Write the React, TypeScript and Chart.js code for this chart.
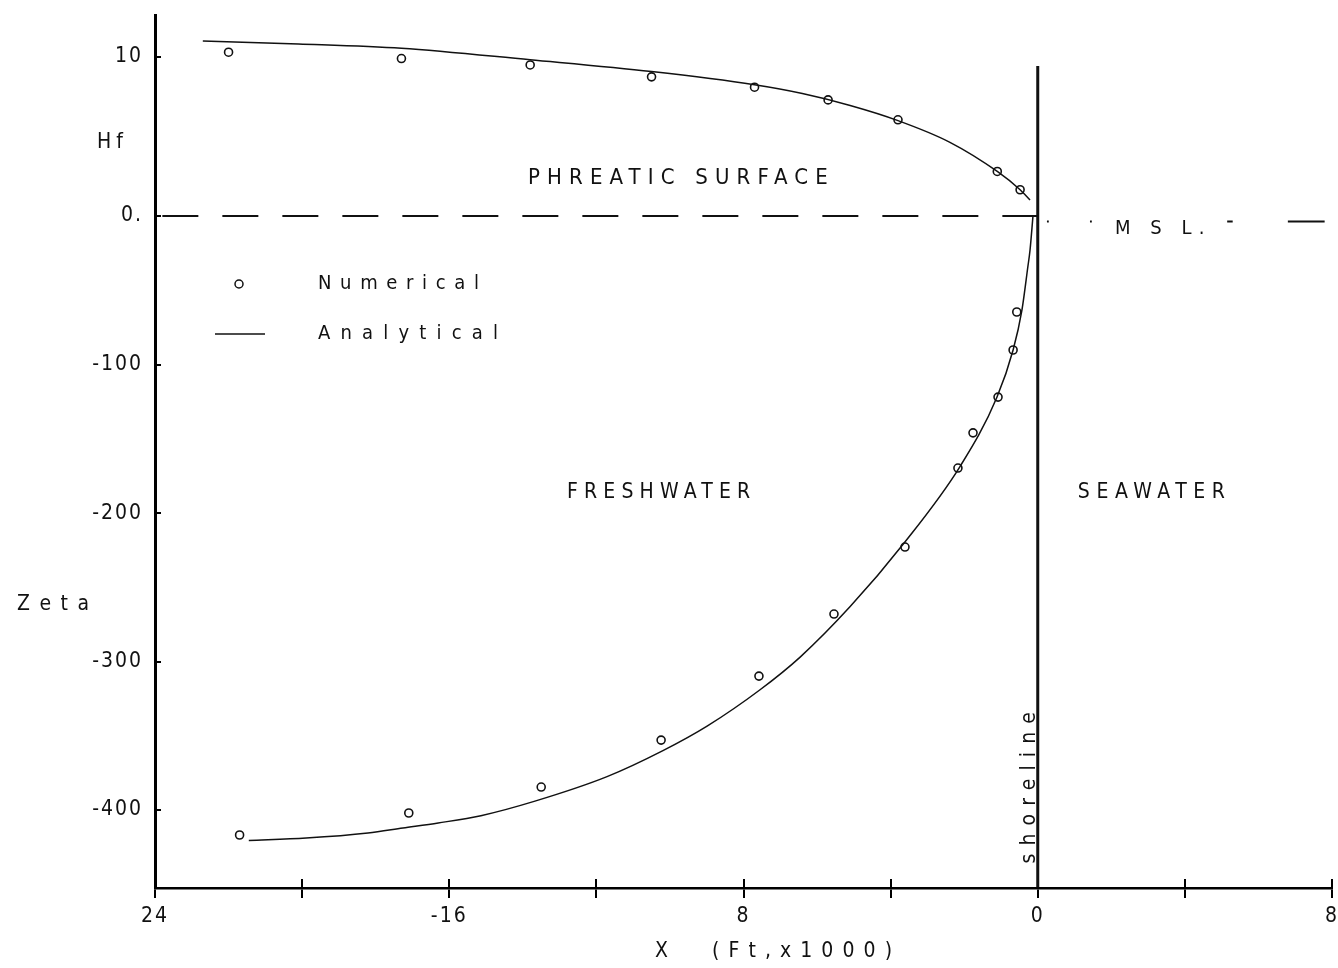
import React, { useEffect, useRef } from "react";
import { Chart, registerables } from "chart.js";

Chart.register(...registerables);

const FONT = '"DejaVu Sans Condensed", "Liberation Sans Narrow", "DejaVu Sans", sans-serif';

// ---- axes ----
const X_MIN = -24;
const X_MAX = 8;
const ZETA_MIN = -452.5;
const ZETA_MAX = 135.4;
const HF_MIN = -42.26;
const HF_MAX = 12.64;

const X_TICKS = [-24, -20, -16, -12, -8, -4, 0, 4, 8];
const X_TICK_LABELS = ["24", "", "-16", "", "8", "", "0", "", "8"];
const ZETA_TICKS = [-400, -300, -200, -100];
const ZETA_TICK_LABELS = ["-400", "-300", "-200", "-100"];
const HF_TICKS = [0, 10];
const HF_TICK_LABELS = ["0.", "10"];

// ---- phreatic surface Hf (upper, exaggerated scale) ----
const HF_NUM_X = [-22.0, -17.3, -13.8, -10.5, -7.7, -5.7, -3.8, -1.1, -0.48];
const HF_NUM = [10.3, 9.9, 9.5, 8.75, 8.1, 7.3, 6.05, 2.8, 1.65];

const HF_ANA_X = [-22.7, -20.1, -17.3, -13.8, -10.5, -7.7, -6.4, -5.1, -3.8, -2.4, -1.1, -0.48, -0.21];
const HF_ANA = [11.0, 10.82, 10.55, 9.82, 9.08, 8.25, 7.7, 6.95, 6.0, 4.65, 2.8, 1.65, 1.0];

// ---- interface Zeta (lower) ----
const ZETA_NUM_X = [-21.7, -17.1, -13.5, -10.24, -7.58, -5.54, -3.61, -2.17, -1.76, -1.08, -0.67, -0.57];
const ZETA_NUM = [-416.8, -402, -384.5, -352.9, -309.8, -268, -222.9, -169.7, -146, -121.9, -90.2, -64.6];

const ZETA_ANA_X = [-21.45, -19.89, -18.21, -17.26, -16.3, -15.14, -13.67, -11.71, -10.19, -8.99, -7.55, -6.46, -5.1, -3.66, -2.11, -1.11, -0.67, -0.43, -0.27, -0.21, -0.13];
const ZETA_ANA = [-420.5, -418.9, -415.5, -412.1, -408.7, -403.8, -394, -377.5, -360, -343.5, -319, -297, -263, -221, -168.5, -122, -90.2, -63.3, -34.3, -22.9, 0];

// ---- reference lines ----
const MSL_LEVEL = 0;
const MSL_LEFT_X = [-23.8, 0];
const MSL_RIGHT_X = [0.25, 0.3, null, 1.42, 1.47, null, 5.15, 5.3, null, 6.8, 7.8];
const MSL_RIGHT_LEVEL = -0.35;
const SHORELINE_X = 0;
const SHORELINE_ZETA = [101, -452];

const pts = (xs: (number | null)[], ys: number[] | number) =>
  xs.map((x, i) => (x === null ? { x: NaN, y: null } : { x, y: Array.isArray(ys) ? ys[i] : ys }));

// Hf tick values expressed on the Zeta axis (both axes span the same plot height)
const hfToZeta = (h: number) => ZETA_MIN + ((h - HF_MIN) / (HF_MAX - HF_MIN)) * (ZETA_MAX - ZETA_MIN);
const Y_TICK_VALUES = [...ZETA_TICKS, ...HF_TICKS.map(hfToZeta)];
const Y_TICK_LABELS = [...ZETA_TICK_LABELS, ...HF_TICK_LABELS];

const noPad = (s: any) => {
  s.paddingTop = 0;
  s.paddingBottom = 0;
  s.paddingLeft = 0;
  s.paddingRight = 0;
};

const spacingPlugin = {
  id: "tickSpacing",
  beforeDraw(chart: any) {
    chart.ctx.letterSpacing = "2px";
  },
};

const annotationPlugin = {
  id: "annotations",
  afterDraw(chart: any) {
    const ctx = chart.ctx;
    const xs = chart.scales.x;
    const zs = chart.scales.y;
    const hs = chart.scales.y2;
    ctx.save();
    ctx.fillStyle = "#111";
    ctx.strokeStyle = "#111";
    ctx.textAlign = "left";

    const spaced = (text: string, left: number, right: number, cy: number, size: number, baseline = "middle") => {
      ctx.font = `${size}px ${FONT}`;
      ctx.textBaseline = baseline;
      ctx.letterSpacing = "0px";
      const w = ctx.measureText(text).width;
      const n = text.length;
      const sp = n > 1 ? Math.max(0, (right - left - w) / (n - 1)) : 0;
      ctx.letterSpacing = `${sp}px`;
      ctx.fillText(text, left, cy);
      ctx.letterSpacing = "0px";
    };

    // region labels (data coordinates)
    spaced("PHREATIC SURFACE", xs.getPixelForValue(-13.86), xs.getPixelForValue(-5.71), hs.getPixelForValue(2.39), 22);
    spaced("FRESHWATER", xs.getPixelForValue(-12.8), xs.getPixelForValue(-7.82), zs.getPixelForValue(-186), 21);
    spaced("SEAWATER", xs.getPixelForValue(1.09), xs.getPixelForValue(5.09), zs.getPixelForValue(-186.5), 21);
    spaced("M S L.", xs.getPixelForValue(2.1), xs.getPixelForValue(4.53), hs.getPixelForValue(-0.82), 20);

    // shoreline label, rotated
    const yb = zs.getPixelForValue(-436);
    const yt = zs.getPixelForValue(-334);
    ctx.save();
    ctx.translate(xs.getPixelForValue(SHORELINE_X) - 3, yb);
    ctx.rotate(-Math.PI / 2);
    spaced("shoreline", 0, yb - yt, 0, 21, "alphabetic");
    ctx.restore();

    // axis titles
    spaced("Hf", 97, 123, 143, 21);
    spaced("Zeta", 17, 89, 605, 21);
    spaced("X", 655, 667, 952, 21);
    spaced("(Ft,x1000)", 712, 892, 952, 21);

    // legend
    ctx.lineWidth = 1.5;
    ctx.beginPath();
    ctx.arc(239, 284, 4, 0, Math.PI * 2);
    ctx.stroke();
    spaced("Numerical", 318, 479, 284, 20);
    ctx.beginPath();
    ctx.moveTo(215, 334);
    ctx.lineTo(265, 334);
    ctx.stroke();
    spaced("Analytical", 318, 498, 334, 20);

    ctx.restore();
  },
};

export default function App() {
  const ref = useRef<HTMLCanvasElement>(null);

  useEffect(() => {
    const canvas = ref.current;
    if (!canvas) return;
    const tickFont = { family: FONT, size: 21 };
    const lineDs = (data: any[], axis: string, extra: any = {}) => ({
      data,
      yAxisID: axis,
      showLine: true,
      borderColor: "#111",
      borderWidth: 1.5,
      pointRadius: 0,
      pointHoverRadius: 0,
      fill: false,
      ...extra,
    });
    const pointDs = (data: any[], axis: string) => ({
      data,
      yAxisID: axis,
      showLine: false,
      borderColor: "#111",
      backgroundColor: "#fff",
      borderWidth: 1.6,
      pointRadius: 4,
      pointStyle: "circle",
    });
    const xTicks = (s: any) => {
      s.ticks = X_TICKS.map((v) => ({ value: v }));
    };

    const chart = new Chart(canvas, {
      type: "scatter",
      data: {
        datasets: [
          lineDs(pts(MSL_LEFT_X, MSL_LEVEL), "y2", { borderDash: [36, 24], borderWidth: 2 }),
          lineDs(pts(MSL_RIGHT_X, MSL_RIGHT_LEVEL), "y2", { borderWidth: 2, spanGaps: false }),
          lineDs(pts([SHORELINE_X, SHORELINE_X], SHORELINE_ZETA), "y", { borderWidth: 3 }),
          lineDs(pts(HF_ANA_X, HF_ANA), "y2", { cubicInterpolationMode: "monotone" }),
          pointDs(pts(HF_NUM_X, HF_NUM), "y2"),
          lineDs(pts(ZETA_ANA_X, ZETA_ANA), "y", { cubicInterpolationMode: "monotone" }),
          pointDs(pts(ZETA_NUM_X, ZETA_NUM), "y"),
        ],
      },
      options: {
        animation: false,
        responsive: false,
        devicePixelRatio: 1,
        layout: { autoPadding: false, padding: { left: 0, top: 15, right: 6, bottom: 0 } },
        plugins: { legend: { display: false }, tooltip: { enabled: false } },
        scales: {
          x: {
            type: "linear",
            position: "bottom",
            min: X_MIN,
            max: X_MAX,
            weight: 1,
            afterBuildTicks: xTicks,
            afterFit: (s: any) => {
              s.height = 80;
              noPad(s);
            },
            border: { display: true, color: "#000", width: 2.5 },
            grid: { drawOnChartArea: false, drawTicks: true, tickLength: 10, color: "#000", lineWidth: 2 },
            ticks: {
              color: "#111",
              padding: 6,
              autoSkip: false,
              maxRotation: 0,
              font: tickFont,
              callback: (v: any) => {
                const i = X_TICKS.indexOf(Number(v));
                return i >= 0 ? X_TICK_LABELS[i] : "";
              },
            },
          },
          xin: {
            type: "linear",
            position: "bottom",
            min: X_MIN,
            max: X_MAX,
            weight: 0,
            afterBuildTicks: xTicks,
            afterFit: (s: any) => {
              s.height = 0;
              noPad(s);
            },
            border: { display: false },
            grid: { drawOnChartArea: false, drawTicks: true, tickLength: -9, color: "#000", lineWidth: 2 },
            ticks: { display: true, autoSkip: false, maxRotation: 0, padding: 0, font: { size: 1 }, callback: () => "" },
          },
          y: {
            type: "linear",
            position: "left",
            min: ZETA_MIN,
            max: ZETA_MAX,
            weight: 1,
            afterBuildTicks: (s: any) => {
              s.ticks = Y_TICK_VALUES.map((v) => ({ value: v }));
            },
            afterFit: (s: any) => {
              s.width = 155;
              noPad(s);
            },
            border: { display: true, color: "#000", width: 3 },
            grid: { drawOnChartArea: false, drawTicks: true, tickLength: -6, color: "#000", lineWidth: 2 },
            ticks: {
              color: "#111",
              padding: 18,
              font: tickFont,
              callback: (v: any, i: number) => Y_TICK_LABELS[i] ?? "",
            },
          },
          y2: {
            type: "linear",
            position: "right",
            min: HF_MIN,
            max: HF_MAX,
            display: false,
          },
        },
      } as any,
      plugins: [spacingPlugin, annotationPlugin],
    } as any);

    return () => chart.destroy();
  }, []);

  return (
    <div style={{ position: "fixed", left: 0, top: 0, width: 1338, height: 968, background: "#fff" }}>
      <canvas ref={ref} width={1338} height={968} style={{ display: "block", width: 1338, height: 968 }} />
    </div>
  );
}
